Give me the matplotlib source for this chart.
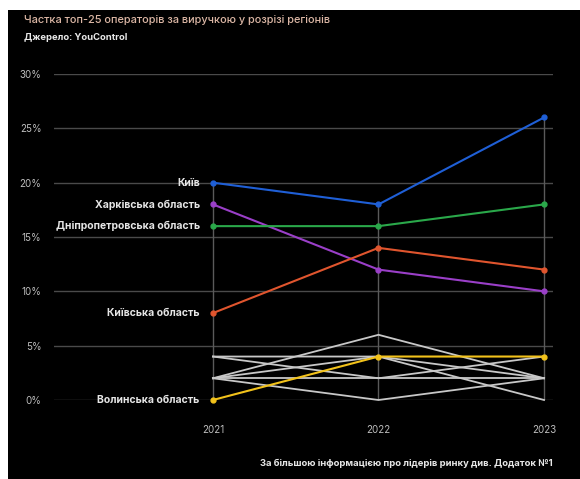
import matplotlib
matplotlib.use("Agg")
import matplotlib.pyplot as plt

plt.rcParams['font.family'] = ['Inter', 'DejaVu Sans']

years = [2021, 2022, 2023]

# highlighted regions
region_names = ["Київ", "Харківська область", "Дніпропетровська область",
                "Київська область", "Волинська область"]
kyiv = [20, 18, 26]
kharkiv = [18, 12, 10]
dnipro = [16, 16, 18]
kyiv_obl = [8, 14, 12]
volyn = [0, 4, 4]
region_colors = ["#1f5fd6", "#9a3fc8", "#2aa84a", "#e0552e", "#f2c21b"]

# the rest of the regions, drawn in grey
other_a = [2, 6, 2]
other_b = [2, 0, 2]
other_c = [4, 4, 0]
other_d = [2, 4, 2]
other_e = [4, 2, 4]
other_f = [2, 2, 2]

y_ticks = [0, 5, 10, 15, 20, 25, 30]

fig = plt.figure(figsize=(5.8, 4.79), dpi=100, facecolor="white")

# black card behind everything
bg = fig.add_axes([8 / 580, 0, 1 - 8 / 580, 1 - 10 / 479], zorder=0)
bg.set_facecolor("black")
bg.set_xticks([])
bg.set_yticks([])
for s in bg.spines.values():
    s.set_visible(False)

ax = fig.add_axes([54 / 580, 1 - 400 / 479, (553 - 54) / 580, (400 - 74) / 479], zorder=1)
ax.set_facecolor("none")
ax.set_xlim(2020.04, 2023.054)
ax.set_ylim(0, 30)
for s in ax.spines.values():
    s.set_visible(False)

for t in y_ticks:
    ax.axhline(t, color="#4a4a4a", lw=1, zorder=1)

series = [kyiv, kharkiv, dnipro, kyiv_obl, volyn]
others = [other_a, other_b, other_c, other_d, other_e, other_f]

for i, yr in enumerate(years):
    top = max(s[i] for s in series + others)
    ax.plot([yr, yr], [0, top], color="#5a5a5a", lw=1, zorder=1)

for s in others:
    ax.plot(years, s, color="#c8c8c8", lw=1.3, zorder=2, clip_on=False)

for name, s, c in zip(region_names, series, region_colors):
    ax.plot(years, s, color=c, lw=1.5, marker="o", ms=3.5, zorder=3, clip_on=False)
    ax.text(years[0] - 0.08, s[0], name, color="#e6e6e6", fontsize=7.5,
            fontweight="bold", ha="right", va="center")

ax.set_yticks(y_ticks)
ax.set_yticklabels([f"{t}%" for t in y_ticks])
ax.set_xticks(years)
ax.set_xticklabels([str(y) for y in years])
ax.tick_params(length=0, colors="#bdbdbd", labelsize=7)
ax.tick_params(axis="y", pad=9)
ax.tick_params(axis="x", pad=18)

fig.text(24 / 580, 1 - 20 / 479, "Частка топ-25 операторів за виручкою у розрізі регіонів",
         color="#dcb7a5", fontsize=7.9, fontweight="medium", va="center", ha="left")
fig.text(24 / 580, 1 - 38 / 479, "Джерело: YouControl",
         color="#e8e8e8", fontsize=6.8, fontweight="bold", va="center", ha="left")
fig.text(553 / 580, 1 - 463 / 479,
         "За більшою інформацією про лідерів ринку див. Додаток №1",
         color="#e8e8e8", fontsize=6.8, fontweight="bold", va="center", ha="right")

fig.savefig("out.png", dpi=100, facecolor=fig.get_facecolor())
